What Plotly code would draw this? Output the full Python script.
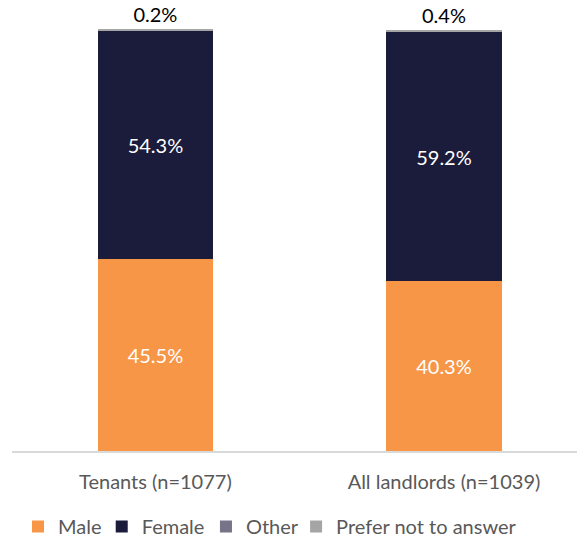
import plotly.graph_objects as go

categories = ["Tenants (n=1077)", "All landlords (n=1039)"]
male = [45.5, 40.3]
female = [54.3, 59.2]
other = [0.0, 0.1]
prefer_not = [0.2, 0.4]
top_labels = ["0.2%", "0.4%"]

colors = {"Male": "#F79646", "Female": "#1B1C3B", "Other": "#777388", "Prefer not to answer": "#A5A5A5"}
FONT = "Lato, 'Open Sans', sans-serif"

fig = go.Figure()
fig.add_bar(x=categories, y=male, name="Male", marker_color=colors["Male"], legend="legend",
            text=[f"{v:.1f}%" for v in male], textposition="inside", insidetextanchor="middle",
            textfont=dict(color="white", size=20, family=FONT))
fig.add_bar(x=categories, y=female, name="Female", marker_color=colors["Female"], legend="legend2",
            text=[f"{v:.1f}%" for v in female], textposition="inside", insidetextanchor="middle",
            textfont=dict(color="white", size=20, family=FONT))
fig.add_bar(x=categories, y=other, name="Other", marker_color=colors["Other"], legend="legend3")
fig.add_bar(x=categories, y=prefer_not, name="Prefer not to answer", marker_color=colors["Prefer not to answer"],
            legend="legend4",
            text=top_labels, textposition="outside", cliponaxis=False,
            textfont=dict(color="black", size=20, family=FONT))

fig.update_traces(marker_line_width=0, width=0.4)

leg_common = dict(orientation="h", y=-0.1685, yanchor="middle", xanchor="left",
                  font=dict(size=20, color="#595959", family=FONT), itemwidth=30,
                  bgcolor="rgba(0,0,0,0)")

fig.update_layout(
    barmode="stack",
    width=578, height=546,
    margin=dict(l=12, r=1, t=0, b=95),
    plot_bgcolor="white", paper_bgcolor="white",
    font=dict(family=FONT, size=20, color="#595959"),
    xaxis=dict(range=[-0.497, 1.461], showline=True, linecolor="#D9D9D9", linewidth=1.5,
               tickfont=dict(size=20, color="#595959", family=FONT), ticks="", showgrid=False,
               ticklabelstandoff=12),
    yaxis=dict(range=[0, 107.1], visible=False, showgrid=False),
    legend=dict(x=0.0106, **leg_common),
    legend2=dict(x=0.1588, **leg_common),
    legend3=dict(x=0.3433, **leg_common),
    legend4=dict(x=0.5028, **leg_common),
    showlegend=True,
    uniformtext=dict(mode=False),
)

fig.write_html("out.html", post_script="document.body.style.margin='0';",
               config={"displayModeBar": False})
